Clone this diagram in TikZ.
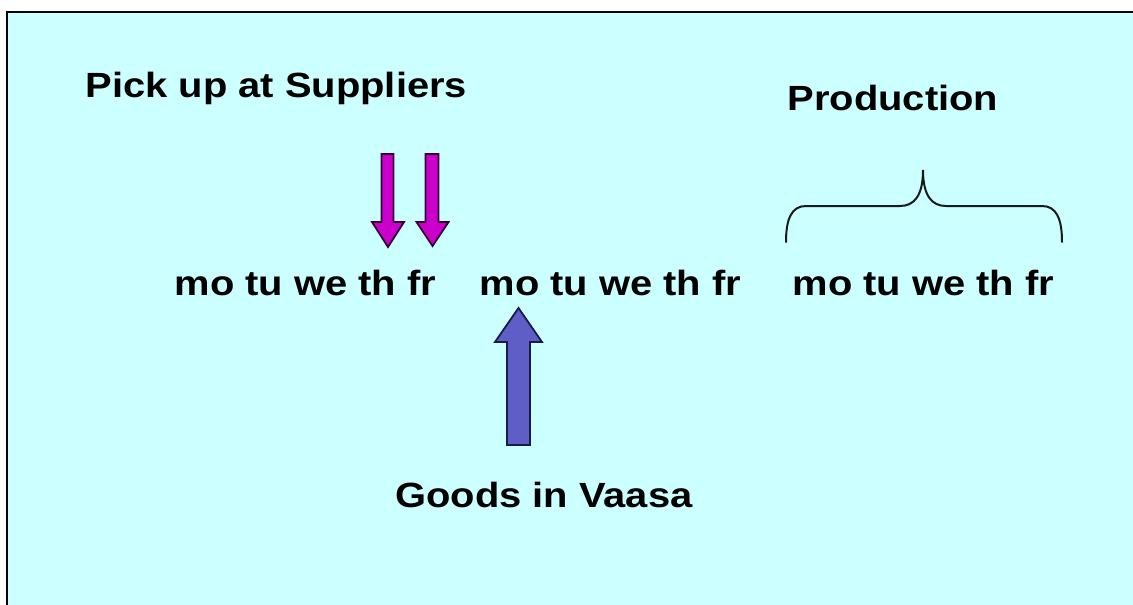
\documentclass[tikz,border=0pt]{standalone}
\usepackage{fontspec}
\setmainfont{Liberation Sans}[FakeStretch=1.14]
\definecolor{slidebg}{HTML}{CCFFFF}
\definecolor{pickfill}{HTML}{CC00CC}
\definecolor{pickline}{HTML}{330033}
\definecolor{goodsfill}{HTML}{5E5EC6}
\definecolor{goodsline}{HTML}{1A1A4A}
\definecolor{braceline}{HTML}{1A1A1A}
\begin{document}
\begin{tikzpicture}[x=1pt,y=-1pt,
  caption/.style={font=\fontsize{35}{42}\selectfont\bfseries, inner sep=0pt, anchor=base west},
  pickarrow/.style={fill=pickfill, draw=pickline, line width=1.8pt, line join=miter},
  goodsarrow/.style={fill=goodsfill, draw=goodsline, line width=1.8pt, line join=miter},
  bracestyle/.style={draw=braceline, line width=2pt, line cap=round}]
\useasboundingbox (0,0) rectangle (1133,605);
\clip (0,0) rectangle (1133,605);
\fill[white] (0,0) rectangle (1133,605);
% slide area with its frame
\draw[line width=2.5pt, fill=slidebg] (7.2,12.2) rectangle (1150,620);

% headings
\node[caption] (pick) at (85.5,97) {Pick up at Suppliers};
\node[caption] (prod) at (787.5,110) {Production};
\node[caption] (goods) at (395,507) {Goods in Vaasa};

% three working weeks
\node[caption] (week1) at (174.5,295) {mo tu we th fr};
\node[caption] (week2) at (479.5,295) {mo tu we th fr};
\node[caption] (week3) at (792.5,295) {mo tu we th fr};

% pick-up arrows (thursday, friday)
\draw[pickarrow] (381.5,154) -- (393.5,154) -- (393.5,222) -- (404,222)
  -- (388,247) -- (372,222) -- (381.5,222) -- cycle;
\draw[pickarrow] (425.5,154) -- (438.5,154) -- (438.5,222) -- (448.5,222)
  -- (432.5,246) -- (416.5,222) -- (425.5,222) -- cycle;

% goods arriving in Vaasa on monday
\draw[goodsarrow] (507,445) -- (530,445) -- (530,342) -- (542,342)
  -- (518.5,308) -- (495,342) -- (507,342) -- cycle;

% production brace over the third week
\draw[bracestyle] (786,242) .. controls (786,218) and (792,206) .. (806,206)
  -- (900,206) .. controls (914,206) and (923,196) .. (923,170)
  .. controls (923,196) and (932,206) .. (946,206)
  -- (1042,206) .. controls (1056,206) and (1062,218) .. (1062,242);
\end{tikzpicture}
\end{document}
